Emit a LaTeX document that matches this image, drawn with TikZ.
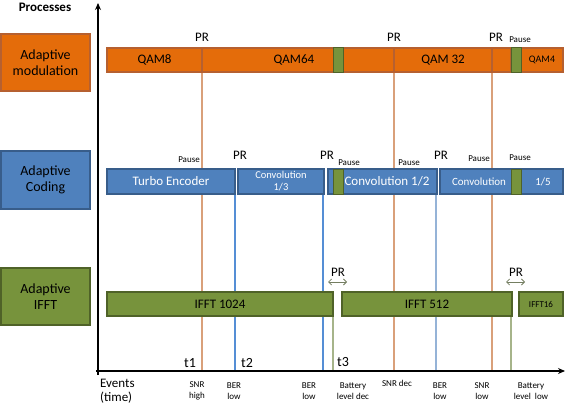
\documentclass[tikz,border=0pt]{standalone}
\usepackage{fontspec}
\setmainfont{Carlito}
\usepackage{tikz}
\usetikzlibrary{arrows.meta}

\definecolor{qamfill}{RGB}{228,108,10}
\definecolor{qamdraw}{RGB}{182,96,48}
\definecolor{codfill}{RGB}{79,129,189}
\definecolor{coddraw}{RGB}{56,93,138}
\definecolor{fftfill}{RGB}{119,147,60}
\definecolor{fftdraw}{RGB}{79,98,40}
\definecolor{snrcol}{RGB}{217,160,122}
\definecolor{bercol}{RGB}{85,142,213}
\definecolor{berlight}{RGB}{149,179,215}
\definecolor{batcol}{RGB}{166,180,138}

\tikzset{
  procbox/.style={draw, rectangle, line width=1.5pt, inner sep=0pt, outer sep=0pt, minimum width=89pt, align=center, font=\fontsize{14}{16}\selectfont},
  qamseg/.style={draw=qamdraw, fill=qamfill, rectangle, line width=1.2pt, inner sep=0pt, outer sep=0pt, minimum height=24pt, font=\fontsize{13}{15}\selectfont},
  codseg/.style={draw=coddraw, fill=codfill, rectangle, line width=1.2pt, inner sep=0pt, outer sep=0pt, minimum height=25pt, text=white, font=\fontsize{13}{15}\selectfont},
  fftseg/.style={draw=fftdraw, fill=fftfill, rectangle, line width=1.2pt, inner sep=0pt, outer sep=0pt, minimum height=24pt, font=\fontsize{13}{15}\selectfont},
  pauseblk/.style={draw=fftdraw, fill=fftfill, rectangle, line width=1pt, inner sep=0pt, minimum width=10pt},
  prlbl/.style={inner sep=0pt, font=\fontsize{13}{15}\selectfont},
  pauselbl/.style={inner sep=0pt, font=\fontsize{9}{11}\selectfont},
  evlbl/.style={inner sep=0pt, align=center, font=\fontsize{9}{11}\selectfont},
  tlbl/.style={inner sep=0pt, font=\fontsize{14}{16}\selectfont},
  evline/.style={line width=1.2pt}
}

\begin{document}
\begin{tikzpicture}[x=1pt, y=-1pt]
\useasboundingbox (0,0) rectangle (567,412);

% Axes
\coordinate (origin) at (98,371);
\coordinate (ytop) at (98,3);
\coordinate (xend) at (565,371);
\node (procs) [inner sep=0pt, font=\bfseries\fontsize{13}{15}\selectfont] at (45,7) {Processes};
\node (events) [inner sep=0pt, anchor=north west, align=left, font=\fontsize{13}{14}\selectfont] at (100,379) {Events\\(time)};

% Process boxes
\node (modbox) [procbox, draw=qamdraw, fill=qamfill, minimum height=57pt] at (45.5,62.5) {Adaptive\\modulation};
\node (codbox) [procbox, draw=coddraw, fill=codfill, minimum height=58pt] at (45.5,180) {Adaptive\\Coding};
\node (fftbox) [procbox, draw=fftdraw, fill=fftfill, minimum height=57pt] at (45.5,296.5) {Adaptive\\IFFT};

% Event lines
\draw[evline, snrcol] (202,72) -- (202,371);
\draw[evline, snrcol] (394,72) -- (394,371);
\draw[evline, snrcol] (492,72) -- (492,371);
\draw[evline, bercol] (235,194) -- (235,371);
\draw[evline, bercol] (323,194) -- (323,371);
\draw[evline, berlight] (436,194) -- (436,371);
\draw[evline, batcol] (333,316) -- (333,371);
\draw[evline, batcol] (511,316) -- (511,371);

% Modulation bar
\node (qam8) [qamseg, minimum width=95pt] at (154.5,60) {QAM8};
\node (qam64) [qamseg, minimum width=192pt] at (298,60) {\hspace*{-8pt}QAM64};
\node (qam32) [qamseg, minimum width=98pt] at (443,60) {QAM 32};
\node (qamgap) [qamseg, minimum width=19pt] at (501.5,60) {};
\node (qam4) [qamseg, minimum width=42pt, font=\fontsize{10}{12}\selectfont] at (542,60) {QAM4};
\node (qpause1) [pauseblk, minimum height=24pt] at (338,60) {};
\node (qpause2) [pauseblk, minimum height=24pt] at (516,60) {};

% Coding bar
\node (turbo) [codseg, minimum width=128pt] at (171,181.5) {Turbo Encoder};
\node (conv13) [codseg, minimum width=86pt, align=center, font=\fontsize{10.5}{12}\selectfont] at (281,181.5) {Convolution\\1/3};
\node (conv12) [codseg, minimum width=109pt] at (382.5,181.5) {};
\node (conv15) [codseg, minimum width=123pt] at (501.5,181.5) {};
\node (cpause1) [pauseblk, minimum height=25pt] at (338,181.5) {};
\node (cpause2) [pauseblk, minimum height=25pt] at (516,181.5) {};
\node (conv12txt) [inner sep=0pt, text=white, font=\fontsize{13}{15}\selectfont] at (387,181.5) {Convolution 1/2};
\node (conv15txt) [inner sep=0pt, text=white, font=\fontsize{11}{13}\selectfont] at (479,181.5) {Convolution};
\node (conv15b) [inner sep=0pt, text=white, font=\fontsize{11}{13}\selectfont] at (543,181.5) {1/5};

% IFFT bar
\node (ifft1024) [fftseg, minimum width=226pt] at (220,304) {IFFT 1024};
\node (ifft512) [fftseg, minimum width=170pt] at (427,304) {IFFT 512};
\node (ifft16) [fftseg, minimum width=44pt, font=\fontsize{9}{11}\selectfont] at (541,304) {IFFT16};

% PR and Pause labels
\node (pr1) [prlbl] at (202,37) {PR};
\node (pr2) [prlbl] at (394,37) {PR};
\node (pr3) [prlbl] at (496,37) {PR};
\node (qp2) [pauselbl] at (520,40) {Pause};
\node (cp0) [pauselbl] at (189,160) {Pause};
\node (pr4) [prlbl] at (240,155) {PR};
\node (pr5) [prlbl] at (327,155) {PR};
\node (cp1) [pauselbl] at (349,163) {Pause};
\node (cp2) [pauselbl] at (409,163) {Pause};
\node (pr6) [prlbl] at (441,155) {PR};
\node (cp3) [pauselbl] at (479,159) {Pause};
\node (cp4) [pauselbl] at (520,158) {Pause};
\node (pr7) [prlbl] at (338,272) {PR};
\node (pr8) [prlbl] at (516,272) {PR};
\coordinate (pr7l) at (328,282);
\coordinate (pr7r) at (347,282);
\coordinate (pr8l) at (506,282);
\coordinate (pr8r) at (525,282);
\draw[batcol!70!black, line width=0.8pt, {Straight Barb[length=3pt]}-{Straight Barb[length=3pt]}] (pr7l) -- (pr7r);
\draw[batcol!70!black, line width=0.8pt, {Straight Barb[length=3pt]}-{Straight Barb[length=3pt]}] (pr8l) -- (pr8r);

% Time marks
\node (t1) [tlbl] at (190,363) {t1};
\node (t2) [tlbl] at (247,363) {t2};
\node (t3) [tlbl] at (343,362) {t3};

% Event labels
\node (ev1) [evlbl] at (197,391) {SNR\\high};
\node (ev2) [evlbl] at (234,391) {BER\\low};
\node (ev3) [evlbl] at (309,391) {BER\\low};
\node (ev4) [evlbl] at (353,391) {Battery\\level dec};
\node (ev5) [evlbl, anchor=north] at (397,380) {SNR dec};
\node (ev6) [evlbl] at (440,391) {BER\\low};
\node (ev7) [evlbl] at (482,391) {SNR\\low};
\node (ev8) [evlbl] at (531,391) {Battery\\level\ \ low};

% Arrows
\draw[line width=1.8pt, -{Stealth[length=7pt, width=6pt]}] (98,375) -- (ytop);
\draw[line width=1.8pt, -{Stealth[length=7pt, width=6pt]}] (96,371) -- (xend);

\end{tikzpicture}
\end{document}
